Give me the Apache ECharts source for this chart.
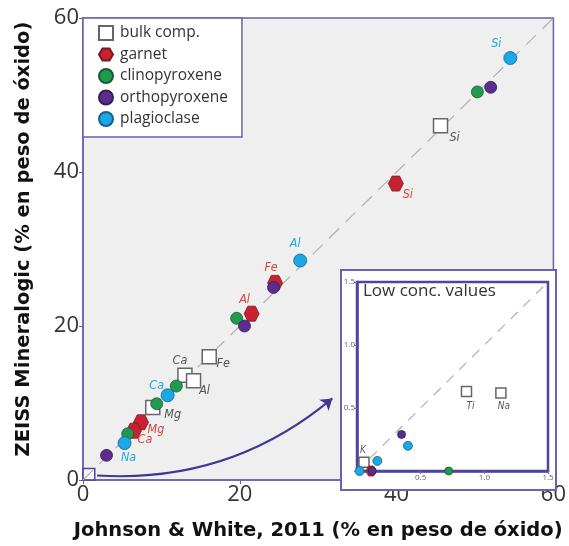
<!DOCTYPE html>
<html><head><meta charset="utf-8">
<script src="https://cdn.jsdelivr.net/npm/echarts@6/dist/echarts.min.js"></script>
<style>html,body{margin:0;padding:0;background:#fff}#c{width:569px;height:546px}</style>
</head><body><div id="c"></div>
<script>
// ---------- data ----------
const categories = ['bulk comp.', 'garnet', 'clinopyroxene', 'orthopyroxene', 'plagioclase'];
// main plot (x: Johnson & White, y: ZEISS)
const bulkMain = [[45.6, 46.0], [16.1, 16.0], [13.0, 13.6], [14.1, 12.9], [8.9, 9.4]];
const bulkMainLabels = ['Si', 'Fe', 'Ca', 'Al', 'Mg'];
const garnetMain = [[39.9, 38.5], [24.5, 25.6], [21.5, 21.6], [7.4, 7.5], [6.5, 6.4]];
const garnetMainLabels = ['Si', 'Fe', 'Al', 'Mg', 'Ca'];
const cpxMain = [[50.3, 50.4], [19.6, 21.0], [11.9, 12.2], [9.4, 9.9], [5.7, 6.0]];
const opxMain = [[52.0, 51.0], [24.3, 25.0], [20.6, 20.0], [3.0, 3.2]];
const plagMain = [[54.5, 54.8], [27.7, 28.5], [10.8, 11.0], [5.3, 4.8]];
const plagMainLabels = ['Si', 'Al', 'Ca', 'Na'];
// inset (low concentration values)
const bulkLow = [[0.055, 0.07], [0.86, 0.63], [1.13, 0.62]];
const bulkLowLabels = ['K', 'Ti', 'Na'];
const garnetLow = [[0.11, 0.0]];
const cpxLow = [[0.72, 0.0]];
const opxLow = [[0.35, 0.29], [0.12, 0.0]];
const plagLow = [[0.02, 0.0], [0.16, 0.08], [0.40, 0.20]];
// reference 1:1 line extents and ticks
const mainRange = [0, 60];
const lowRange = [0, 1.5];
const mainTicks = [0, 20, 40, 60];
const lowTicks = [0.5, 1.0, 1.5];
const zoomBox = [[0, 0], [1.5, 1.5]];
const arrowFromTo = [[1.8, 0.6], [31.8, 10.6]];

// ---------- styles ----------
const PURPLE = '#6a62ae';
const PURPLE_D = '#4e45a0';
const colors = {
  'bulk comp.': '#ffffff', 'garnet': '#c62232', 'clinopyroxene': '#1f9a4f',
  'orthopyroxene': '#5b2e8e', 'plagioclase': '#1ba8e6'
};
const borders = {
  'bulk comp.': '#666666', 'garnet': '#7a1a1a', 'clinopyroxene': '#145c33',
  'orthopyroxene': '#3a1c5c', 'plagioclase': '#15628a'
};
const labelColors = { 'bulk comp.': '#555555', 'garnet': '#d9443c', 'plagioclase': '#1ba8e6' };
const symbols = {
  'bulk comp.': 'rect',
  'garnet': 'path://M-10,0 L-5,-8.66 L5,-8.66 L10,0 L5,8.66 L-5,8.66 Z',
  'clinopyroxene': 'circle', 'orthopyroxene': 'circle', 'plagioclase': 'circle'
};
const labelOffsets = {
  bulkMain: [[14, 12], [14, 7], [-5, -15], [11, 10], [20, 7]],
  garnetMain: [[12, 11], [-4, -15], [-7, -14], [15, 7], [11, 9]],
  plagMain: [[-14, -14], [-5, -17], [-11, -10], [4, 15]],
  bulkLow: [[-1, -12], [4, 15], [3, 14]]
};
const LABEL_FONT = "'Liberation Sans Narrow','DejaVu Sans Condensed','Open Sans',sans-serif";
const TICK_FONT = "'Open Sans','Noto Sans',sans-serif";
const NAME_FONT = "'DejaVu Sans',sans-serif";

function scatter(name, data, idx, size, labels, offs, z) {
  return {
    type: 'scatter', name: name, xAxisIndex: idx, yAxisIndex: idx,
    symbol: symbols[name], symbolSize: size, z: z,
    itemStyle: { color: colors[name], borderColor: borders[name], borderWidth: name === 'bulk comp.' ? 1.5 : 0.8, opacity: 1 },
    data: data.map((d, i) => {
      const item = { value: d };
      if (labels) {
        item.label = {
          show: true, formatter: labels[i], position: 'inside', offset: offs[i],
          align: 'center', verticalAlign: 'middle',
          color: labelColors[name], fontStyle: 'italic', fontSize: idx === 0 ? 12.5 : 10,
          fontFamily: LABEL_FONT
        };
      }
      return item;
    }),
    emphasis: { disabled: true }
  };
}

const chart = echarts.init(document.getElementById('c'), null, { renderer: 'canvas' });

const option = {
  animation: false,
  backgroundColor: '#ffffff',
  legend: {
    data: categories, orient: 'vertical', left: 83, top: 18,
    padding: [7, 14, 10, 15], itemGap: 5.5, itemWidth: 14, itemHeight: 14,
    backgroundColor: '#ffffff', borderColor: PURPLE, borderWidth: 1.5, borderRadius: 0,
    textStyle: { fontSize: 15.5, color: '#333', fontFamily: TICK_FONT, padding: [0, 0, 0, 2] },
    selectedMode: false, z: 10
  },
  grid: [
    { left: 83, top: 18, width: 472, height: 471, show: true, backgroundColor: '#efefef', borderColor: PURPLE, borderWidth: 1.5, z: 0 },
    { left: 357, top: 282, width: 191, height: 189, show: true, backgroundColor: '#ffffff', borderColor: PURPLE_D, borderWidth: 2.5, z: 6 }
  ],
  xAxis: [
    {
      gridIndex: 0, type: 'value', min: 0, max: 60, interval: 20,
      name: 'Johnson & White, 2011 (% en peso de óxido)', nameLocation: 'middle', nameGap: 41,
      nameTextStyle: { fontSize: 19.5, fontWeight: 'bold', color: '#111', fontFamily: NAME_FONT },
      axisLine: { show: true, lineStyle: { color: PURPLE, width: 1.5 } },
      axisTick: { show: true, length: 4, lineStyle: { color: '#666' } },
      axisLabel: { fontSize: 22, color: '#333', margin: 4, fontFamily: TICK_FONT, formatter: v => mainTicks.includes(v) ? String(v) : '' },
      splitLine: { show: false }
    },
    {
      gridIndex: 1, type: 'value', min: 0, max: 1.5, interval: 0.5, z: 7,
      axisLine: { show: true, lineStyle: { color: PURPLE_D, width: 2.5 } },
      axisTick: { show: true, length: 3, lineStyle: { color: '#777' } },
      axisLabel: { fontSize: 8, color: '#666', margin: 3, fontFamily: TICK_FONT,
        formatter: v => lowTicks.some(t => Math.abs(t - v) < 1e-6) ? v.toFixed(1) : '' },
      splitLine: { show: false }
    }
  ],
  yAxis: [
    {
      gridIndex: 0, type: 'value', min: 0, max: 60, interval: 20,
      name: 'ZEISS Mineralogic (% en peso de óxido)', nameLocation: 'middle', nameGap: 49,
      nameTextStyle: { fontSize: 19.5, fontWeight: 'bold', color: '#111', fontFamily: NAME_FONT, padding: [0, 0, 0, 20] },
      axisLine: { show: true, lineStyle: { color: PURPLE, width: 1.5 } },
      axisTick: { show: true, length: 4, lineStyle: { color: '#666' } },
      axisLabel: { fontSize: 22, color: '#333', margin: 4, fontFamily: TICK_FONT, formatter: v => mainTicks.includes(v) ? String(v) : '' },
      splitLine: { show: false }
    },
    {
      gridIndex: 1, type: 'value', min: 0, max: 1.5, interval: 0.5, z: 7,
      axisLine: { show: true, lineStyle: { color: PURPLE_D, width: 2.5 } },
      axisTick: { show: true, length: 3, lineStyle: { color: '#777' } },
      axisLabel: { fontSize: 8, color: '#666', margin: 2, fontFamily: TICK_FONT,
        formatter: v => lowTicks.some(t => Math.abs(t - v) < 1e-6) ? v.toFixed(1) : '' },
      splitLine: { show: false }
    }
  ],
  graphic: [
    { type: 'rect', left: 340, top: 269, shape: { width: 215, height: 220 }, style: { fill: '#ffffff', stroke: PURPLE, lineWidth: 2 }, z: 5, silent: true },
    { type: 'text', left: 363, top: 283, style: { text: 'Low conc. values', fontSize: 17, fill: '#333', fontFamily: TICK_FONT }, z: 12, silent: true }
  ],
  series: [
    {
      type: 'line', xAxisIndex: 0, yAxisIndex: 0, data: [[mainRange[0], mainRange[0]], [mainRange[1], mainRange[1]]],
      symbol: 'none', lineStyle: { color: '#b0b0b0', width: 1.2, type: [14, 9] }, z: 1, silent: true,
      markArea: { silent: true, itemStyle: { color: 'rgba(255,255,255,0.5)', borderColor: PURPLE_D, borderWidth: 1.5 },
        data: [[{ coord: zoomBox[0] }, { coord: zoomBox[1] }]] }
    },
    {
      type: 'line', xAxisIndex: 1, yAxisIndex: 1, data: [[lowRange[0], lowRange[0]], [lowRange[1], lowRange[1]]],
      symbol: 'none', lineStyle: { color: '#b0b0b0', width: 1.2, type: [10, 8] }, z: 8, silent: true
    },
    {
      type: 'lines', coordinateSystem: 'cartesian2d', xAxisIndex: 0, yAxisIndex: 0, z: 9, silent: true,
      symbol: ['none', 'arrow'], symbolSize: [0, 11],
      lineStyle: { color: '#3e3894', width: 2, curveness: -0.2, opacity: 1 },
      data: [{ coords: arrowFromTo }]
    },
    scatter('bulk comp.', bulkMain, 0, 14, bulkMainLabels, labelOffsets.bulkMain, 3),
    scatter('garnet', garnetMain, 0, 15, garnetMainLabels, labelOffsets.garnetMain, 3),
    scatter('clinopyroxene', cpxMain, 0, 12, null, null, 3),
    scatter('orthopyroxene', opxMain, 0, 12, null, null, 3),
    scatter('plagioclase', plagMain, 0, 13, plagMainLabels, labelOffsets.plagMain, 3),
    scatter('bulk comp.', bulkLow, 1, 10, bulkLowLabels, labelOffsets.bulkLow, 10),
    scatter('garnet', garnetLow, 1, 10, null, null, 10),
    scatter('clinopyroxene', cpxLow, 1, 8, null, null, 10),
    scatter('orthopyroxene', opxLow, 1, 8, null, null, 10),
    scatter('plagioclase', plagLow, 1, 9, null, null, 10)
  ]
};
chart.setOption(option);
</script></body></html>
